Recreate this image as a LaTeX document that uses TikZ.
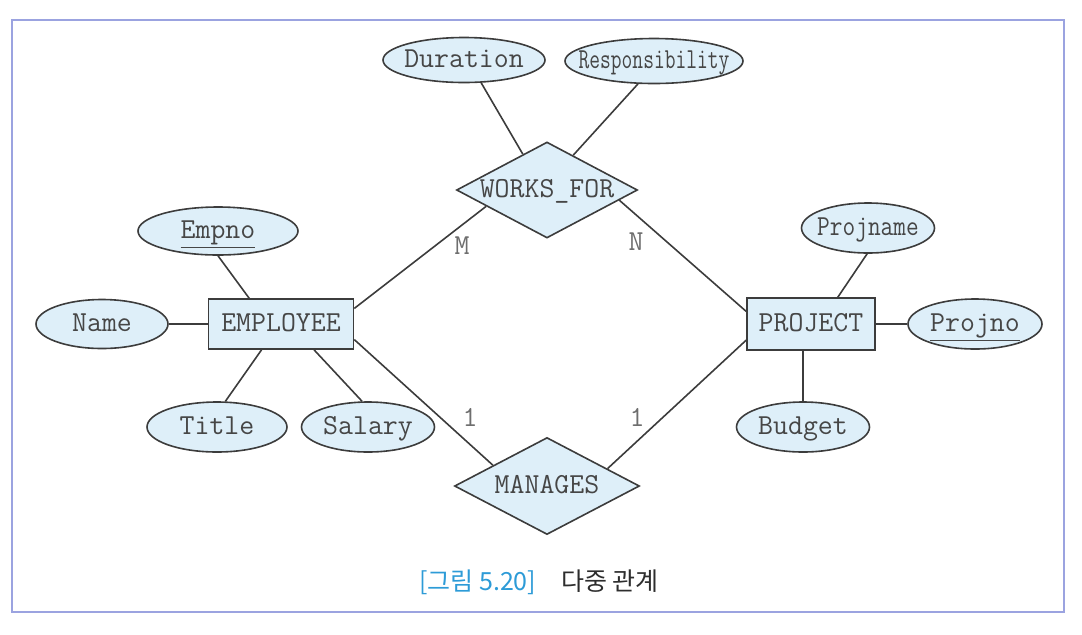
\documentclass[tikz,border=0pt]{standalone}
\usepackage{fontspec}
\usepackage{graphicx}
\usetikzlibrary{shapes.geometric}
\newfontfamily\krfont{Noto Sans CJK KR}
\definecolor{erfill}{RGB}{222,239,249}
\definecolor{erline}{RGB}{60,60,60}
\definecolor{ertext}{RGB}{70,70,70}
\definecolor{cardtext}{RGB}{110,110,110}
\definecolor{framecol}{RGB}{155,163,224}
\definecolor{capblue}{RGB}{45,155,215}
\definecolor{captext}{RGB}{45,45,45}
\tikzset{
  erbase/.style={draw=erline, fill=erfill, line width=0.8pt, text=ertext,
    font=\ttfamily\fontsize{14.5}{16}\selectfont, text height=9pt, text depth=2pt},
  entity/.style={erbase, rectangle, inner sep=0pt},
  attrib/.style={erbase, ellipse, inner xsep=-8pt, inner ysep=-6pt},
  relation/.style={erbase, diamond, aspect=1.9, inner sep=0pt},
  card/.style={text=cardtext, font=\ttfamily\fontsize{14.5}{16}\selectfont},
  link/.style={draw=erline, line width=0.8pt},
}
\begin{document}
\begin{tikzpicture}[x=0.5pt,y=-0.5pt]
            \useasboundingbox (0,0) rectangle (1082,634);
            \draw [framecol, line width=1pt] (12,20) rectangle (1064,612);

            % entities and relationships
            \node [entity, minimum width=72.5pt, minimum height=25pt] (employee) at (281,324) {EMPLOYEE};
            \node [entity, minimum width=64pt, minimum height=26pt] (project) at (811,324) {PROJECT};
            \node [relation, minimum width=90.5pt, minimum height=48pt] (works) at (547,190) {WORKS\_FOR};
            \node [relation, minimum width=92.5pt, minimum height=48.5pt] (manages) at (547,486) {MANAGES};

            % attributes
            \node [attrib, minimum width=81pt, minimum height=22.5pt] (duration) at (464,60) {Duration};
            \node [attrib, minimum width=89pt, minimum height=22.5pt] (resp) at (654,61) {\scalebox{0.72}[1]{Responsibility}};
            \node [attrib, minimum width=80pt, minimum height=24pt] (empno) at (218,231) {\underline{Empno}};
            \node [attrib, minimum width=66pt, minimum height=24.5pt] (name) at (102,324) {Name};
            \node [attrib, minimum width=70pt, minimum height=25pt] (title) at (217,427) {Title};
            \node [attrib, minimum width=66.5pt, minimum height=25pt] (salary) at (368,427) {Salary};
            \node [attrib, minimum width=66.5pt, minimum height=25pt] (projname) at (868,228) {\scalebox{0.85}[1]{Projname}};
            \node [attrib, minimum width=67pt, minimum height=25pt] (projno) at (975,324) {\underline{Projno}};
            \node [attrib, minimum width=66.5pt, minimum height=25pt] (budget) at (803,427) {Budget};

            \draw [link] (empno.south) -- (employee.141);
            \draw [link] (name.east) -- (employee.west);
            \draw [link] (title.72) -- (employee.233);
            \draw [link] (salary.103) -- (employee.322);
            \draw [link] (employee.12) -- (works.195);
            \draw [link] (employee.348) -- (manages.159);
            \draw [link] (works.352) -- (project.169);
            \draw [link] (manages.16) -- (project.194);
            \draw [link] (duration.307) -- (works.124);
            \draw [link] (resp.235) -- (works.53);
            \draw [link] (projname.268) -- (project.45);
            \draw [link] (projno.west) -- (project.east);
            \draw [link] (budget.north) -- (budget.north |- project.south);

            % cardinalities
            \node [card] (cardM) at (462,246) {M};
            \node [card] (cardN) at (636,242) {N};
            \node [card] (cardEmp) at (470,417) {1};
            \node [card] (cardProj) at (637,417) {1};

            \node [text=captext, font=\krfont\fontsize{12.5}{15}\selectfont] (caption) at (539,582)
                {\textcolor{capblue}{[그림 5.20]}\quad 다중 관계};
        \end{tikzpicture}
\end{document}
